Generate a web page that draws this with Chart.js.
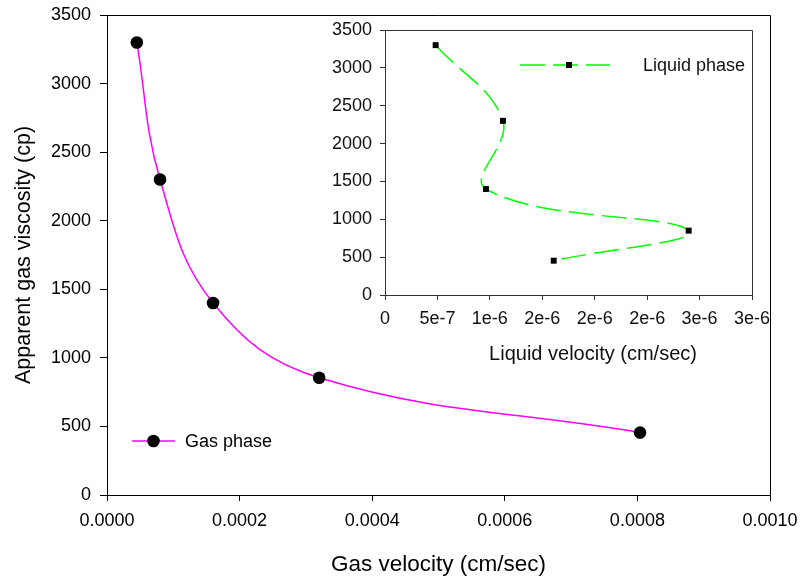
<!DOCTYPE html>
<html><head><meta charset="utf-8">
<script src="https://cdn.jsdelivr.net/npm/chart.js@4"></script>
<style>
html,body{margin:0;padding:0;background:#fff;}
#wrap{position:relative;width:801px;height:577px;overflow:hidden;}
#main{position:absolute;left:0;top:0;}
#inset{position:absolute;left:320px;top:20px;}
</style></head><body>
<div id="wrap"><canvas id="main" width="801" height="577"></canvas><canvas id="inset" width="460" height="350"></canvas></div>
<script>
const gasVelocity = [0.000045, 0.00008, 0.00016, 0.00032, 0.000804];
const gasViscosity = [3300, 2300, 1400, 855, 455];
const liquidVelocity = [4.83e-7, 1.125e-6, 9.63e-7, 2.896e-6, 1.609e-6];
const liquidViscosity = [3300, 2300, 1400, 850, 453];
const gasXTicks = ['0.0000', '0.0002', '0.0004', '0.0006', '0.0008', '0.0010'];
const viscosityTicks = ['0', '500', '1000', '1500', '2000', '2500', '3000', '3500'];
const liquidXTicks = ['0', '5e-7', '1e-6', '2e-6', '2e-6', '2e-6', '3e-6', '3e-6'];

const FAM = '"Liberation Sans", Arial, Helvetica, sans-serif';
Chart.defaults.font.family = FAM;

function noPad(s) { s.paddingTop = 0; s.paddingBottom = 0; s.paddingLeft = 0; s.paddingRight = 0; }

const framePlugin = {
  id: 'frame',
  afterDraw(chart, args, opts) {
    const {ctx, chartArea: a} = chart;
    ctx.save();
    ctx.strokeStyle = opts.color || '#000';
    ctx.lineWidth = 1;
    ctx.beginPath();
    ctx.moveTo(a.left, Math.round(a.top) + 0.5);
    ctx.lineTo(Math.round(a.right) + 0.5, Math.round(a.top) + 0.5);
    ctx.lineTo(Math.round(a.right) + 0.5, a.bottom);
    ctx.stroke();
    ctx.restore();
  }
};

const gasLegend = {
  id: 'gasLegend',
  afterDraw(chart) {
    const ctx = chart.ctx;
    ctx.save();
    ctx.strokeStyle = '#ff00ff';
    ctx.lineWidth = 1.5;
    ctx.beginPath();
    ctx.moveTo(132, 441);
    ctx.lineTo(175, 441);
    ctx.stroke();
    ctx.fillStyle = '#000';
    ctx.beginPath();
    ctx.arc(153.5, 441, 6.3, 0, Math.PI * 2);
    ctx.fill();
    ctx.font = '18px ' + FAM;
    ctx.textBaseline = 'middle';
    ctx.textAlign = 'left';
    ctx.fillText('Gas phase', 185, 442);
    ctx.restore();
  }
};

new Chart(document.getElementById('main'), {
  type: 'scatter',
  data: {
    datasets: [{
      label: 'Gas phase',
      data: gasVelocity.map((x, i) => ({x: x, y: gasViscosity[i]})),
      showLine: true,
      borderColor: '#ff00ff',
      borderWidth: 1.5,
      tension: 0.4,
      pointRadius: 6.3,
      pointBackgroundColor: '#000',
      pointBorderColor: '#000',
      pointBorderWidth: 0,
      fill: false
    }]
  },
  options: {
    responsive: false,
    animation: false,
    devicePixelRatio: 1,
    layout: {padding: {top: 15, right: 31, left: 0, bottom: 0}},
    plugins: {legend: {display: false}, tooltip: {enabled: false}, frame: {color: '#000'}},
    scales: {
      x: {
        type: 'linear', min: 0, max: 0.001,
        ticks: {stepSize: 0.0002, callback: (v, i) => gasXTicks[i], font: {size: 18}, color: '#000', padding: 9, maxRotation: 0, autoSkip: false},
        grid: {drawOnChartArea: false, tickLength: 6, color: '#000', lineWidth: 1},
        border: {color: '#000', width: 1},
        title: {display: true, text: 'Gas velocity (cm/sec)', font: {size: 22.5, lineHeight: 1}, color: '#000', padding: {top: 0, bottom: 1}},
        afterFit: s => { s.height = 82; noPad(s); }
      },
      y: {
        type: 'linear', min: 0, max: 3500,
        ticks: {stepSize: 500, callback: (v, i) => viscosityTicks[i], font: {size: 18}, color: '#000', padding: 9, autoSkip: false},
        grid: {drawOnChartArea: false, tickLength: 7, color: '#000', lineWidth: 1},
        border: {color: '#000', width: 1},
        title: {display: true, text: 'Apparent gas viscosity (cp)', font: {size: 21.5, lineHeight: 1}, color: '#000', padding: {top: 13, bottom: 0}},
        afterFit: s => { s.width = 107; noPad(s); }
      }
    }
  },
  plugins: [framePlugin, gasLegend]
});

const insetExtras = {
  id: 'insetExtras',
  afterDraw(chart) {
    const ctx = chart.ctx;
    ctx.save();
    ctx.fillStyle = '#111';
    ctx.font = '20px ' + FAM;
    ctx.textAlign = 'center';
    ctx.textBaseline = 'middle';
    ctx.fillText('Liquid velocity (cm/sec)', 273, 334);
    // legend
    ctx.strokeStyle = '#00ff00';
    ctx.lineWidth = 1.5;
    ctx.setLineDash([25, 8]);
    ctx.beginPath();
    ctx.moveTo(200, 45);
    ctx.lineTo(290, 45);
    ctx.stroke();
    ctx.setLineDash([]);
    ctx.fillStyle = '#000';
    ctx.fillRect(246, 42, 6, 6);
    ctx.fillStyle = '#111';
    ctx.font = '18px ' + FAM;
    ctx.textAlign = 'left';
    ctx.fillText('Liquid phase', 323, 46);
    ctx.restore();
  }
};

new Chart(document.getElementById('inset'), {
  type: 'scatter',
  data: {
    datasets: [{
      label: 'Liquid phase',
      data: liquidVelocity.map((x, i) => ({x: x, y: liquidViscosity[i]})),
      showLine: true,
      borderColor: '#00ff00',
      borderWidth: 1.5,
      borderDash: [25, 8],
      tension: 0.4,
      pointStyle: 'rect',
      pointRadius: 4.2,
      pointBackgroundColor: '#000',
      pointBorderColor: '#000',
      pointBorderWidth: 0,
      fill: false
    }]
  },
  options: {
    responsive: false,
    animation: false,
    devicePixelRatio: 1,
    layout: {padding: {top: 10, right: 28, left: 0, bottom: 0}},
    plugins: {legend: {display: false}, tooltip: {enabled: false}, frame: {color: '#333'}},
    scales: {
      x: {
        type: 'linear', min: 0, max: 3.5e-6,
        ticks: {stepSize: 5e-7, callback: (v, i) => liquidXTicks[i], font: {size: 18}, color: '#111', padding: 8, maxRotation: 0, autoSkip: false},
        grid: {drawOnChartArea: false, tickLength: 5, color: '#333', lineWidth: 1},
        border: {color: '#333', width: 1},
        afterFit: s => { s.height = 75; noPad(s); }
      },
      y: {
        type: 'linear', min: 0, max: 3500,
        ticks: {stepSize: 500, callback: (v, i) => viscosityTicks[i], font: {size: 18}, color: '#111', padding: 8, autoSkip: false},
        grid: {drawOnChartArea: false, tickLength: 5, color: '#333', lineWidth: 1},
        border: {color: '#333', width: 1},
        afterFit: s => { s.width = 65; noPad(s); }
      }
    }
  },
  plugins: [framePlugin, insetExtras]
});
</script>
</body></html>
